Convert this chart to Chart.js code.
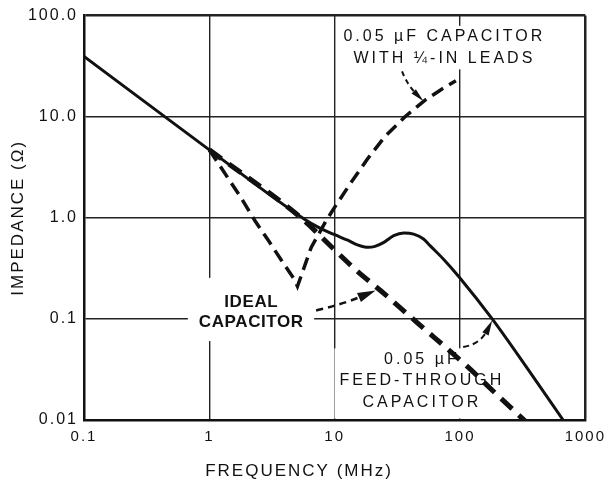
<!DOCTYPE html>
<html>
<head>
<meta charset="utf-8">
<script src="https://cdn.jsdelivr.net/npm/chart.js@4.4.1/dist/chart.umd.min.js"></script>
<style>
  html, body { margin: 0; padding: 0; background: #fff; }
  canvas { display: block; }
</style>
</head>
<body>
<canvas id="chart" width="614" height="482"></canvas>
<script>
// ---------------- data ----------------
const xTickValues = [0.1, 1, 10, 100, 1000];
const xTickLabels = ['0.1', '1', '10', '100', '1000'];
const yTickValues = [0.01, 0.1, 1, 10, 100];
const yTickLabels = ['0.01', '0.1', '1.0', '10.0', '100.0'];

// 0.05 uF feed-through capacitor (solid)
const feedFreq = [0.1, 1, 5.75, 7.5, 10, 12.7, 15.2, 18.5, 21, 24.7, 29.6, 35.6, 42.7, 51.2, 57.7, 73.6, 98.4, 180.7, 356, 665];
const feedZ    = [39.5, 4.7, 0.97, 0.8, 0.68, 0.6, 0.54, 0.51, 0.522, 0.571, 0.665, 0.707, 0.69, 0.617, 0.53, 0.392, 0.26, 0.1, 0.0306, 0.01];

// ideal capacitor (heavy dashed)
const idealFreq = [1, 5.5, 7.34, 10.56, 15.2, 23.2, 45, 112.5, 200, 330];
const idealZ    = [4.7, 0.98, 0.7, 0.45, 0.295, 0.191, 0.093, 0.0345, 0.0175, 0.0098];

// 0.05 uF capacitor with 1/4-in leads (dashed)
const leadsFreq = [1, 1.79, 2.32, 2.99, 3.81, 4.8, 5.05, 6.5, 8.53, 9.95, 13.4, 18.2, 25, 36.4, 52.7, 70, 92.7];
const leadsZ    = [4.7, 1.58, 0.93, 0.585, 0.371, 0.243, 0.21, 0.51, 0.93, 1.26, 2.2, 3.8, 6.3, 10, 14.6, 18.4, 22.7];

// annotation texts
const leadsLabel = ['0.05 \u00B5F CAPACITOR', 'WITH \u00BC-IN LEADS'];
const idealLabel = ['IDEAL', 'CAPACITOR'];
const feedLabel  = ['0.05 \u00B5F', 'FEED-THROUGH', 'CAPACITOR'];
const xTitle = 'FREQUENCY (MHz)';
const yTitle = 'IMPEDANCE (\u03A9)';

// ---------------- presentation ----------------
const FONT = "'Liberation Sans', Arial, Helvetica, sans-serif";
Chart.defaults.font.family = FONT;
Chart.defaults.color = '#111';

// label blocks anchored in data space (first line centre)
const labelBlocks = [
  { lines: leadsLabel, f: 73, z: 62,    size: 16, bold: false, spacing: 3,   gap: 22,   pad: { x: 6,  top: 5,  bottom: 5 } },
  { lines: idealLabel, f: 2.15, z: 0.147, size: 17, bold: true, spacing: 0.6, gap: 20, pad: { x: 11, top: 18, bottom: 13 } },
  { lines: feedLabel,  f: 48.3, z: 0.04, size: 16, bold: false, spacing: 3,   gap: 21.8, pad: { x: 5,  top: 5,  bottom: 10 } }
];

// arrows anchored in data space
const arrowDefs = [
  { from: [34.5, 28.1],    ctrl: [37.8, 20.8],   to: [51.2, 14.2],   width: 2,   dash: [5, 4], head: [14, 6] },
  { from: [7.11, 0.1213],  ctrl: [11.57, 0.139], to: [21.2, 0.191],  width: 2.5, dash: [7, 5], head: [18, 10] },
  { from: [106, 0.0527],   ctrl: [145.2, 0.0561], to: [180.7, 0.0966], width: 2, dash: [6, 4], head: [15, 7] }
];

const pts = (fr, z) => fr.map((f, i) => ({ x: f, y: z[i] }));
const toPx = (chart, f, z) => [chart.scales.x.getPixelForValue(f), chart.scales.y.getPixelForValue(z)];

function fontOf(lb) { return (lb.bold ? 'bold ' : '') + lb.size + 'px ' + FONT; }

function labelGeom(chart, lb) {
  const ctx = chart.ctx;
  ctx.save();
  ctx.font = fontOf(lb);
  ctx.letterSpacing = lb.spacing + 'px';
  const w = Math.max(...lb.lines.map(t => ctx.measureText(t).width - lb.spacing));
  ctx.restore();
  const [cx, cy] = toPx(chart, lb.f, lb.z);
  const half = 0.36 * lb.size;
  const top = cy - half - lb.pad.top;
  const bottom = cy + (lb.lines.length - 1) * lb.gap + half + lb.pad.bottom;
  return { cx, cy, x: cx - w / 2 - lb.pad.x, y: top, w: w + 2 * lb.pad.x, h: bottom - top };
}

function drawArrow(chart, a) {
  const ctx = chart.ctx;
  const p0 = toPx(chart, a.from[0], a.from[1]);
  const c = toPx(chart, a.ctrl[0], a.ctrl[1]);
  const p1 = toPx(chart, a.to[0], a.to[1]);
  const dx = p1[0] - c[0], dy = p1[1] - c[1];
  const len = Math.hypot(dx, dy) || 1;
  const ux = dx / len, uy = dy / len;
  const hl = a.head[0], hw = a.head[1];
  const end = [p1[0] - ux * hl * 0.7, p1[1] - uy * hl * 0.7];
  ctx.save();
  ctx.strokeStyle = '#111';
  ctx.fillStyle = '#111';
  ctx.lineWidth = a.width;
  ctx.setLineDash(a.dash);
  ctx.beginPath();
  ctx.moveTo(p0[0], p0[1]);
  ctx.quadraticCurveTo(c[0], c[1], end[0], end[1]);
  ctx.stroke();
  ctx.setLineDash([]);
  ctx.beginPath();
  ctx.moveTo(p1[0], p1[1]);
  ctx.lineTo(p1[0] - ux * hl - uy * hw / 2, p1[1] - uy * hl + ux * hw / 2);
  ctx.lineTo(p1[0] - ux * hl + uy * hw / 2, p1[1] - uy * hl - ux * hw / 2);
  ctx.closePath();
  ctx.fill();
  ctx.restore();
}

const spacingPlugin = {
  id: 'spacing',
  beforeUpdate(chart) { chart.ctx.letterSpacing = '2px'; },
  beforeDraw(chart) { chart.ctx.letterSpacing = '2px'; }
};

const annotatePlugin = {
  id: 'annotate',
  beforeDatasetsDraw(chart) {
    const ctx = chart.ctx;
    ctx.save();
    ctx.fillStyle = '#fff';
    labelBlocks.forEach(lb => {
      const g = labelGeom(chart, lb);
      ctx.fillRect(g.x, g.y, g.w, g.h);
    });
    ctx.restore();
  },
  afterDatasetsDraw(chart) {
    const ctx = chart.ctx;
    labelBlocks.forEach(lb => {
      const g = labelGeom(chart, lb);
      ctx.save();
      ctx.font = fontOf(lb);
      ctx.letterSpacing = lb.spacing + 'px';
      ctx.fillStyle = '#111';
      ctx.textAlign = 'center';
      ctx.textBaseline = 'middle';
      lb.lines.forEach((t, i) => ctx.fillText(t, g.cx + lb.spacing / 2, g.cy + i * lb.gap));
      ctx.restore();
    });
    arrowDefs.forEach(a => drawArrow(chart, a));
    // x-axis title (set left of the plot centre as in the reference)
    const ca = chart.chartArea;
    ctx.save();
    ctx.font = '17px ' + FONT;
    ctx.letterSpacing = '2px';
    ctx.fillStyle = '#111';
    ctx.textAlign = 'center';
    ctx.textBaseline = 'middle';
    ctx.fillText(xTitle, ca.left + (ca.right - ca.left) * 0.427 + 1, ca.bottom + 51);
    ctx.restore();
  }
};

const ctx = document.getElementById('chart').getContext('2d');
new Chart(ctx, {
  type: 'line',
  data: {
    datasets: [
      { label: '0.05 \u00B5F feed-through capacitor', data: pts(feedFreq, feedZ),
        borderColor: '#111', borderWidth: 3, pointRadius: 0, fill: false,
        cubicInterpolationMode: 'monotone' },
      { label: 'Ideal capacitor', data: pts(idealFreq, idealZ),
        borderColor: '#111', borderWidth: 5, borderDash: [15, 9], pointRadius: 0, fill: false,
        cubicInterpolationMode: 'monotone' },
      { label: '0.05 \u00B5F capacitor with \u00BC-in leads', data: pts(leadsFreq, leadsZ),
        borderColor: '#111', borderWidth: 3.5, borderDash: [13, 7], pointRadius: 0, fill: false,
        tension: 0 }
    ]
  },
  options: {
    responsive: false,
    animation: false,
    devicePixelRatio: 1,
    layout: { padding: { top: 14, right: 24, left: 0, bottom: 0 } },
    plugins: { legend: { display: false }, tooltip: { enabled: false } },
    scales: {
      x: {
        type: 'logarithmic', min: 0.1, max: 1000,
        afterFit(s) { s.height = 62; },
        afterBuildTicks(s) { s.ticks = xTickValues.map(v => ({ value: v })); },
        ticks: {
          autoSkip: false, maxRotation: 0, minRotation: 0, padding: 8, color: '#111',
          font: { size: 15 },
          callback: (v) => xTickLabels[xTickValues.indexOf(v)]
        },
        grid: {
          drawTicks: false, color: '#222',
          lineWidth: (c) => (c.tick && c.tick.value === 1000) ? 2.5 : 1.4
        },
        border: { display: true, width: 2.5, color: '#111' },
        title: { display: false }
      },
      y: {
        type: 'logarithmic', min: 0.01, max: 100,
        afterFit(s) { s.width = 84; },
        afterBuildTicks(s) { s.ticks = yTickValues.map(v => ({ value: v })); },
        ticks: {
          autoSkip: false, padding: 6, color: '#111',
          font: { size: 16 },
          callback: (v) => yTickLabels[yTickValues.indexOf(v)]
        },
        grid: {
          drawTicks: false, color: '#222',
          lineWidth: (c) => (c.tick && c.tick.value === 100) ? 2.5 : 1.4
        },
        border: { display: true, width: 2.5, color: '#111' },
        title: {
          display: true, text: yTitle, color: '#111',
          font: { size: 17 }, padding: { top: 8, bottom: 0 }
        }
      }
    }
  },
  plugins: [spacingPlugin, annotatePlugin]
});
</script>
</body>
</html>
